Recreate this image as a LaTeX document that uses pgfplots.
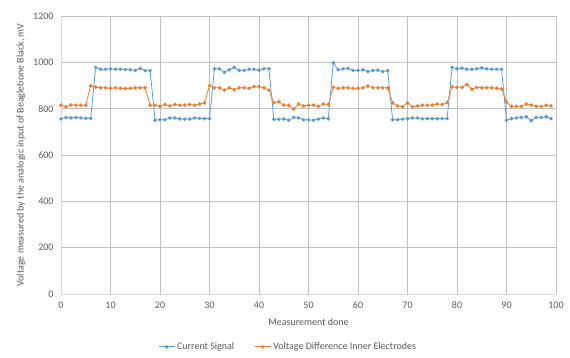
\documentclass[border=0pt]{standalone}
\usepackage{fontspec}
\setmainfont{Carlito}
\usepackage{pgfplots}
\pgfplotsset{compat=1.18}
\definecolor{cblue}{HTML}{5B9BD5}
\definecolor{corange}{HTML}{ED7D31}
\definecolor{txt}{HTML}{595959}
\definecolor{grid}{HTML}{D9D9D9}
\begin{document}
\begin{tikzpicture}
\useasboundingbox (0pt,0pt) rectangle (570pt,358pt);
\begin{axis}[
  at={(61pt,64pt)}, anchor=south west,
  scale only axis, width=495pt, height=278pt,
  xmin=0, xmax=100, ymin=0, ymax=1200,
  xtick={0,10,...,100}, ytick={0,200,...,1200},
  /pgf/number format/assume math mode=true,
  /pgf/number format/1000 sep={},
  ymajorgrids, major grid style={grid, line width=0.6pt},
  axis line style={grid, line width=0.6pt},
  axis x line*=bottom, axis y line*=left,
  x axis line style={-}, y axis line style={-},
  major tick length=0pt,
  tick label style={font=\fontsize{10}{12}\selectfont, text=txt},
  xticklabel style={yshift=-4pt},
  yticklabel style={xshift=-4pt},
  label style={font=\fontsize{10}{12}\selectfont, text=txt},
  xlabel={Measurement done},
  xlabel style={at={(axis description cs:0.5,-0.1)}, anchor=center},
  ylabel={Voltage measured by the analogic input of Beaglebone Black, mV},
  ylabel style={at={(axis description cs:-0.081,0.5)}, anchor=center},
  legend columns=2,
  legend style={at={(axis description cs:0.459,-0.19)}, anchor=center, draw=none,
    font=\fontsize{10}{12}\selectfont, text=txt,
    /tikz/every even column/.append style={column sep=18pt}},
  legend image code/.code={\draw[#1] (0pt,0pt) -- (16pt,0pt); \draw[#1, only marks] plot coordinates {(8pt,0pt)};},
]
\addplot[cblue, line width=0.8pt, mark=*, mark size=1.4pt] coordinates {
(0,756)(1,762)(2,760)(3,762)(4,760)(5,758)(6,758)
(7,978)(8,970)(9,970)(10,972)(11,970)(12,970)(13,969)(14,968)(15,965)(16,974)(17,964)(18,964)
(19,750)(20,752)(21,752)(22,760)(23,760)(24,756)(25,755)(26,755)(27,760)(28,758)(29,757)(30,757)
(31,972)(32,972)(33,957)(34,968)(35,978)(36,965)(37,965)(38,970)(39,970)(40,966)(41,972)(42,972)
(43,754)(44,754)(45,756)(46,750)(47,762)(48,760)(49,752)(50,752)(51,750)(52,755)(53,760)(54,756)
(55,998)(56,968)(57,972)(58,974)(59,965)(60,965)(61,968)(62,960)(63,965)(64,966)(65,960)(66,964)
(67,752)(68,752)(69,755)(70,757)(71,760)(72,760)(73,756)(74,757)(75,757)(76,757)(77,757)(78,757)
(79,978)(80,972)(81,975)(82,970)(83,970)(84,972)(85,976)(86,972)(87,970)(88,970)(89,970)
(90,750)(91,757)(92,760)(93,762)(94,765)(95,748)(96,762)(97,762)(98,765)(99,757)
};
\addlegendentry{Current Signal}
\addplot[corange, line width=0.8pt, mark=*, mark size=1.4pt] coordinates {
(0,815)(1,808)(2,816)(3,815)(4,815)(5,815)
(6,898)(7,893)(8,890)(9,890)(10,888)(11,890)(12,888)(13,887)(14,888)(15,890)(16,890)(17,890)
(18,815)(19,815)(20,810)(21,818)(22,812)(23,818)(24,815)(25,815)(26,818)(27,815)(28,820)(29,825)
(30,900)(31,890)(32,890)(33,880)(34,890)(35,882)(36,890)(37,890)(38,888)(39,895)(40,895)(41,890)(42,880)
(43,826)(44,830)(45,815)(46,815)(47,798)(48,820)(49,812)(50,815)(51,815)(52,810)(53,820)(54,818)
(55,892)(56,888)(57,890)(58,890)(59,888)(60,888)(61,890)(62,898)(63,890)(64,890)(65,890)(66,890)
(67,825)(68,812)(69,808)(70,825)(71,808)(72,812)(73,815)(74,815)(75,815)(76,820)(77,818)(78,826)
(79,894)(80,892)(81,892)(82,904)(83,884)(84,892)(85,890)(86,890)(87,890)(88,888)(89,885)
(90,828)(91,810)(92,810)(93,810)(94,820)(95,815)(96,810)(97,810)(98,815)(99,812)
};
\addlegendentry{Voltage Difference Inner Electrodes}
\end{axis}
\end{tikzpicture}
\end{document}
